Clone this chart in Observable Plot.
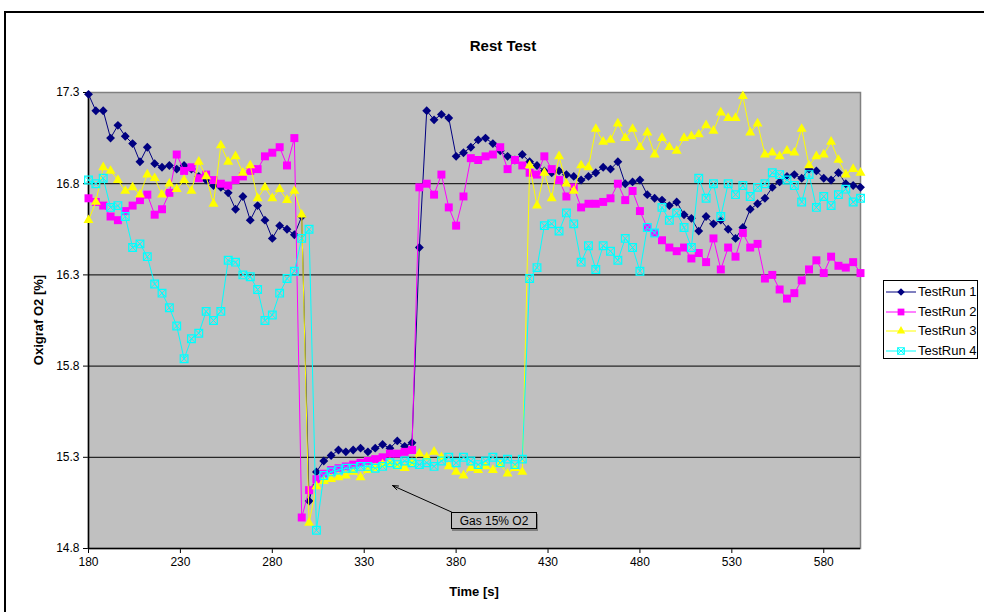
<!DOCTYPE html>
<html><head><meta charset="utf-8">
<script src="https://cdn.jsdelivr.net/npm/d3@7"></script>
<script src="https://cdn.jsdelivr.net/npm/@observablehq/plot@0.6"></script>
<style>
html,body{margin:0;padding:0;background:#fff;overflow:hidden;}
#wrap{position:relative;width:984px;height:612px;overflow:hidden;font-family:"Liberation Sans",Arial,sans-serif;color:#000;}
#frame{position:absolute;left:4px;top:11px;width:1200px;height:900px;border-left:2px solid #000;border-top:2px solid #000;}
#chart{position:absolute;left:0;top:0;}
#title{position:absolute;left:403px;width:200px;top:37px;text-align:center;font-weight:bold;font-size:15px;}
#ylab{position:absolute;left:38px;top:320px;transform:translate(-50%,-50%) rotate(-90deg);font-weight:bold;font-size:13px;white-space:nowrap;}
#xlab{position:absolute;left:474px;top:591px;transform:translate(-50%,-50%);font-weight:bold;font-size:13px;white-space:nowrap;}
#legend{position:absolute;left:883px;top:280px;width:95px;height:79px;border:1px solid #000;background:#fff;box-sizing:border-box;}
.li{position:absolute;left:0;height:20px;width:95px;font-size:13px;}
.li svg{position:absolute;left:1px;top:0;}
.li span{position:absolute;left:34px;top:2px;white-space:nowrap;}
#note{position:absolute;border:1px solid #000;background:#c0c0c0;font-size:12px;height:17px;line-height:16px;width:86px;text-align:center;box-sizing:border-box;white-space:nowrap;box-shadow:1px 2px 0 #808080;}
</style></head>
<body>
<div id="wrap">
  <div id="frame"></div>
  <div id="chart"></div>
  <div id="title"></div>
  <div id="ylab"></div>
  <div id="xlab"></div>
  <div id="legend"></div>
  <div id="note"></div>
</div>
<script>
// ---- data ----
const titleText = "Rest Test";
const xLabel = "Time [s]";
const yLabel = "Oxigraf O2 [%]";
const seriesNames = ["TestRun 1", "TestRun 2", "TestRun 3", "TestRun 4"];
const seriesColors = ["#000080", "#ff00ff", "#ffff00", "#00ffff"];
const xTicks = [180, 230, 280, 330, 380, 430, 480, 530, 580];
const yTicks = [14.8, 15.3, 15.8, 16.3, 16.8, 17.3];
const yGrid = [15.3, 15.8, 16.3, 16.8];

const times = [180,184,188,192,196,200,204,208,212,216,
  220,224,228,232,236,240,244,248,252,256,
  260,264,268,272,276,280,284,288,292,296,
  300,304,308,312,316,320,324,328,332,336,
  340,344,348,352,356,360,364,368,372,376,
  380,384,388,392,396,400,404,408,412,416,
  420,424,428,432,436,440,444,448,452,456,
  460,464,468,472,476,480,484,488,492,496,
  500,504,508,512,516,520,524,528,532,536,
  540,544,548,552,556,560,564,568,572,576,
  580,584,588,592,596,600];

const run1 = [17.29,17.2,17.2,17.05,17.12,17.06,17.02,16.92,17.0,16.91,
  16.89,16.9,16.88,16.9,16.88,16.84,16.82,16.79,16.78,16.75,
  16.66,16.73,16.6,16.68,16.6,16.5,16.57,16.55,16.52,16.62,
  15.06,15.22,15.28,15.31,15.34,15.33,15.34,15.35,15.33,15.35,
  15.37,15.35,15.39,15.36,15.38,16.45,17.2,17.15,17.18,17.16,
  16.95,16.97,17.0,17.04,17.05,17.02,16.98,16.95,16.93,16.96,
  16.92,16.9,16.87,16.86,16.87,16.85,16.84,16.82,16.84,16.86,
  16.89,16.88,16.92,16.8,16.81,16.82,16.74,16.72,16.71,16.68,
  16.7,16.63,16.61,16.54,16.62,16.58,16.6,16.55,16.5,16.56,
  16.66,16.69,16.72,16.78,16.81,16.84,16.85,16.83,16.88,16.87,
  16.83,16.82,16.86,16.8,16.79,16.78];

const run2 = [16.72,16.7,16.68,16.62,16.6,16.65,16.68,16.71,16.74,16.63,
  16.66,16.75,16.96,16.87,16.89,16.83,16.85,16.82,16.8,16.79,
  16.82,16.84,16.87,16.88,16.95,16.97,17.0,16.9,17.05,14.97,
  15.12,15.18,15.21,15.23,15.24,15.25,15.26,15.27,15.28,15.29,
  15.3,15.32,15.32,15.33,15.34,16.78,16.8,16.74,16.85,16.67,
  16.57,16.73,16.94,16.93,16.95,16.96,17.0,16.88,16.93,16.9,
  16.86,16.85,16.95,16.88,16.82,16.73,16.78,16.67,16.69,16.69,
  16.7,16.72,16.8,16.71,16.76,16.65,16.56,16.53,16.49,16.45,
  16.43,16.45,16.39,16.42,16.37,16.5,16.33,16.45,16.4,16.53,
  16.45,16.47,16.28,16.3,16.22,16.17,16.2,16.27,16.33,16.38,
  16.31,16.4,16.35,16.34,16.37,16.31];

const run3 = [16.6,16.7,16.89,16.87,16.82,16.76,16.78,16.74,16.85,16.83,
  16.74,16.8,16.77,16.82,16.76,16.92,16.84,16.69,17.01,16.92,
  16.95,16.86,16.9,16.72,16.78,16.72,16.77,16.71,16.76,16.63,
  14.94,15.14,15.17,15.18,15.19,15.2,15.22,15.19,15.23,15.24,
  15.26,15.27,15.25,15.24,15.27,15.32,15.3,15.33,15.3,15.25,
  15.22,15.2,15.24,15.23,15.25,15.23,15.26,15.21,15.24,15.22,
  16.9,16.68,16.86,16.72,16.95,16.8,16.76,16.9,16.89,17.1,
  17.03,17.04,17.13,17.05,17.1,17.0,17.08,16.96,17.05,17.0,
  16.98,17.05,17.06,17.07,17.12,17.09,17.19,17.16,17.16,17.28,
  17.08,17.13,16.96,16.97,16.95,16.98,16.97,17.1,16.9,16.95,
  16.96,17.03,16.93,16.85,16.88,16.86];

const run4 = [16.82,16.8,16.83,16.67,16.68,16.62,16.45,16.47,16.4,16.25,
  16.2,16.12,16.02,15.84,15.95,15.98,16.1,16.05,16.1,16.38,
  16.37,16.3,16.29,16.22,16.05,16.08,16.2,16.28,16.32,16.5,
  16.55,14.9,15.2,15.22,15.23,15.24,15.24,15.25,15.25,15.24,
  15.25,15.27,15.26,15.28,15.27,15.26,15.27,15.25,15.28,15.3,
  15.27,15.3,15.28,15.26,15.28,15.3,15.27,15.29,15.26,15.29,
  16.28,16.34,16.57,16.58,16.54,16.64,16.58,16.37,16.46,16.33,
  16.46,16.43,16.38,16.5,16.45,16.32,16.56,16.53,16.67,16.6,
  16.64,16.56,16.45,16.83,16.72,16.8,16.62,16.8,16.74,16.79,
  16.73,16.78,16.8,16.86,16.85,16.82,16.79,16.7,16.85,16.67,
  16.73,16.68,16.74,16.77,16.7,16.72];

// annotation anchors (data space)
const noteText = "Gas 15% O2";
const noteBox = {t: 377.5, v: 15.0};
const noteTip = {t: 345.4, v: 15.145};

// ---- build ----
const runs = [run1, run2, run3, run4];
const tables = runs.map(r => times.map((t, i) => ({t, v: r[i]})));

const markerSpec = [
  [{symbol: "diamond2", fill: seriesColors[0], stroke: "none", r: 4}],
  [{symbol: "square", fill: seriesColors[1], stroke: "none", r: 4.5}],
  [{symbol: "triangle", fill: seriesColors[2], stroke: "none", r: 3.7}],
  [{symbol: "square2", fill: "none", stroke: seriesColors[3], strokeWidth: 1.2, r: 4.9},
   {symbol: "times", fill: "none", stroke: seriesColors[3], strokeWidth: 1, r: 3.4}]
];

const marks = [
  Plot.frame({fill: "#c0c0c0", stroke: "#808080", strokeWidth: 1.5}),
  Plot.ruleY(yGrid, {stroke: "#000", strokeWidth: 1}),
  Plot.ruleX([180], {stroke: "#000", strokeWidth: 1.5}),
  Plot.ruleY([14.8], {stroke: "#000", strokeWidth: 1.5})
];
tables.forEach((tb, k) => {
  marks.push(Plot.line(tb, {x: "t", y: "v", stroke: seriesColors[k], strokeWidth: 1}));
  markerSpec[k].forEach(ms => marks.push(Plot.dot(tb, {x: "t", y: "v", ...ms})));
});
marks.push(Plot.arrow([{x1: noteBox.t, y1: noteBox.v, x2: noteTip.t, y2: noteTip.v}],
  {x1: "x1", y1: "y1", x2: "x2", y2: "y2", stroke: "#000", strokeWidth: 1, headLength: 9, headAngle: 40}));

const plot = Plot.plot({
  width: 984, height: 612,
  marginLeft: 88, marginRight: 124, marginTop: 92, marginBottom: 64,
  style: {fontFamily: '"Liberation Sans", Arial, sans-serif', fontSize: "12px", color: "#000", background: "transparent", overflow: "visible"},
  x: {domain: [180, 600], ticks: xTicks, tickSize: 5, tickPadding: 4, label: null, tickFormat: d => String(d)},
  y: {domain: [14.8, 17.3], ticks: yTicks, tickSize: 5, tickPadding: 4, label: null, tickFormat: d => d.toFixed(1)},
  marks
});
document.getElementById("chart").appendChild(plot);

document.getElementById("title").textContent = titleText;
document.getElementById("ylab").textContent = yLabel;
document.getElementById("xlab").textContent = xLabel;

// annotation box placed through plot scales
const sx = plot.scale("x"), sy = plot.scale("y");
const xs = d3.scaleLinear(sx.domain, sx.range), ys = d3.scaleLinear(sy.domain, sy.range);
const note = document.getElementById("note");
note.textContent = noteText;
note.style.left = xs(noteBox.t) + "px";
note.style.top = ys(noteBox.v) + "px";

// legend
const leg = document.getElementById("legend");
const symMap = {diamond2: d3.symbolDiamond2, square: d3.symbolSquare, triangle: d3.symbolTriangle, square2: d3.symbolSquare2, times: d3.symbolTimes};
seriesNames.forEach((name, k) => {
  const row = document.createElement("div");
  row.className = "li";
  row.style.top = (1 + k * 19.5) + "px";
  const svg = d3.create("svg").attr("width", 32).attr("height", 20);
  svg.append("line").attr("x1", 1).attr("x2", 31).attr("y1", 10).attr("y2", 10).attr("stroke", seriesColors[k]).attr("stroke-width", 1);
  markerSpec[k].forEach(ms => {
    const rr = ms.r * 0.85;
    svg.append("path").attr("transform", "translate(16,10)")
      .attr("d", d3.symbol(symMap[ms.symbol], Math.PI * rr * rr)())
      .attr("fill", ms.fill).attr("stroke", ms.stroke).attr("stroke-width", ms.strokeWidth || 0);
  });
  row.appendChild(svg.node());
  const sp = document.createElement("span");
  sp.textContent = name;
  row.appendChild(sp);
  leg.appendChild(row);
});
</script>
</body></html>
